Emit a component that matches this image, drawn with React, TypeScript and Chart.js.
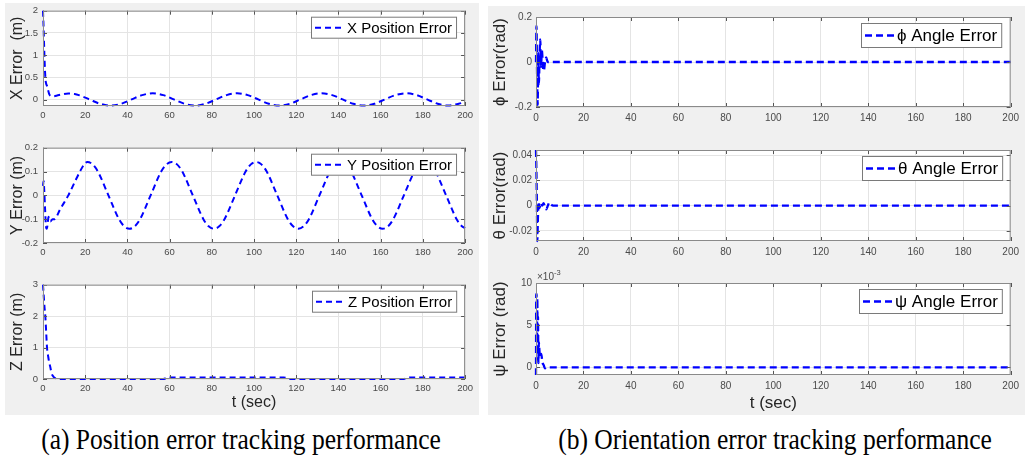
import React, { useEffect, useRef } from 'react';
import { Chart, registerables } from 'chart.js';

Chart.register(...registerables);

// ---------------- Data ----------------
const timeTicks = [0, 20, 40, 60, 80, 100, 120, 140, 160, 180, 200];

const xErrT = [0, 0.3, 0.6, 0.9, 1.2, 1.5, 2, 2.5, 3, 4, 5, 7, 9, 12, 15, 17, 22, 27, 32, 37, 42, 47, 52, 57, 62, 67, 72, 77, 82, 87, 92, 97, 102, 107, 112, 117, 122, 127, 132, 137, 142, 147, 152, 157, 162, 167, 172, 177, 182, 187, 192, 197, 200];
const xErrV = [2.0, 1.6, 1.1, 0.7, 0.45, 0.36, 0.3, 0.2, 0.12, 0.08, 0.08, 0.1, 0.12, 0.14, 0.13, 0.105, 0.008, -0.09, -0.13, -0.09, 0.008, 0.105, 0.145, 0.105, 0.008, -0.09, -0.13, -0.09, 0.008, 0.105, 0.145, 0.105, 0.008, -0.09, -0.13, -0.09, 0.008, 0.105, 0.145, 0.105, 0.008, -0.09, -0.13, -0.09, 0.008, 0.105, 0.145, 0.105, 0.008, -0.09, -0.13, -0.09, -0.05];
const xErrTicks = [0, 0.5, 1, 1.5, 2];

const yErrT = [0, 0.3, 0.6, 1.0, 1.4, 1.8, 2.2, 2.6, 3.0, 3.5, 4.5, 5.5, 8, 12, 15, 17.5, 19.5, 21,
  23.5, 26, 31, 36, 38.5, 41, 43.5, 46, 51, 56, 58.5, 61,
  63.5, 66, 71, 76, 78.5, 81, 83.5, 86, 91, 96, 98.5, 101,
  103.5, 106, 111, 116, 118.5, 121, 123.5, 126, 131, 136, 138.5, 141,
  143.5, 146, 151, 156, 158.5, 161, 163.5, 166, 171, 176, 178.5, 181,
  183.5, 186, 191, 196, 198.5, 200];
const yErrV = [0.04, 0.06, 0.02, -0.06, -0.13, -0.14, -0.12, -0.09, -0.1, -0.11, -0.1, -0.1, -0.06, 0.0, 0.055, 0.1, 0.13, 0.14,
  0.13, 0.1, 0, -0.1, -0.13, -0.14, -0.13, -0.1, 0, 0.1, 0.13, 0.14,
  0.13, 0.1, 0, -0.1, -0.13, -0.14, -0.13, -0.1, 0, 0.1, 0.13, 0.14,
  0.13, 0.1, 0, -0.1, -0.13, -0.14, -0.13, -0.1, 0, 0.1, 0.13, 0.14,
  0.13, 0.1, 0, -0.1, -0.13, -0.14, -0.13, -0.1, 0, 0.1, 0.13, 0.14,
  0.13, 0.1, 0, -0.1, -0.13, -0.138];
const yErrTicks = [-0.2, -0.1, 0, 0.1, 0.2];

const zErrT = [0, 0.3, 0.7, 1.1, 1.5, 1.9, 2.5, 3, 3.4, 4, 5, 6, 8, 57, 58.5, 60, 114, 115.5, 117, 171, 172.5, 174, 200];
const zErrV = [3, 2.7, 2.3, 2.0, 1.5, 1.0, 0.7, 0.5, 0.4, 0.2, 0.07, 0.02, 0, 0, 0.03, 0.05, 0.05, 0.03, 0, 0, 0.03, 0.05, 0.05];
const zErrTicks = [0, 1, 2, 3];

const phiT = [0, 0.2, 0.45, 0.7, 0.95, 1.2, 1.5, 1.8, 2.1, 2.5, 2.9, 3.3, 3.8, 4.3, 4.9, 5.5, 200];
const phiV = [0, 0.16, -0.05, -0.19, 0.04, -0.1, 0.03, 0.1, -0.02, 0.05, -0.02, -0.04, 0.0, 0.02, 0.0, 0.0, 0];
const phiTicks = [-0.2, 0, 0.2];

const thetaT = [0, 0.15, 0.35, 0.55, 0.8, 1.1, 1.5, 2.0, 2.6, 3.2, 3.8, 4.3, 5.0, 5.6, 6.3, 7.2, 8.5, 200];
const thetaV = [0.044, 0.03, 0.006, -0.028, -0.01, 0.003, -0.002, 0.002, 0.0, 0.002, -0.001, -0.003, 0.0, 0.0025, 0.001, 0.0, 0, 0];
const thetaTicks = [-0.02, 0, 0.02, 0.04];

const psiT = [0, 0.1, 0.25, 0.4, 0.55, 0.7, 0.85, 1.0, 1.2, 1.5, 1.8, 2.2, 2.7, 3.2, 3.8, 4.5, 200];
const psiV = [-0.0009, 0.0086, 0.0087, 0.003, 0.0082, 0.0015, 0.006, 0.0005, 0.003, 0.0018, 0.0012, 0.0016, 0.0006, 0.0003, -0.0001, 0, 0];
const psiTicks = [0, 0.005, 0.01];

const captionA = '(a) Position error tracking performance';
const captionB = '(b) Orientation error tracking performance';

// ---------------- Styles ----------------
const SANS = '"Liberation Sans", Arial, Helvetica, sans-serif';
const BLUE = '#0000ff';
const GRID = '#e4e4e4';
const FRAME = '#8a8a8a';
const TICKC = '#4a4a4a';
const TITLEC = '#262626';
const PANEL_BG = '#f0f0f0';

type Side = 'left' | 'right';
type Sub = {
  t: number[];
  v: number[];
  yMin: number;
  yMax: number;
  yTicks: number[];
  yTitle: string;
  legend: string;
  rect: [number, number, number, number];
  side: Side;
  bottom: boolean;
  scaleY?: number;
  exponent?: string;
};

const SIDE = {
  left: { panelLeft: 5, tick: 9.5, title: 16, legend: 15, legendH: 22, lw: 2, dash: [6, 4], yTitlePad: 5, xTickPad: 4, yTickPad: 5, xTitlePad: 4 },
  right: { panelLeft: 488, tick: 10, title: 17, legend: 17, legendH: 25, lw: 2.3, dash: [7, 4], yTitlePad: 3.5, xTickPad: 5, yTickPad: 4, xTitlePad: 3.5 },
};

const subs: Sub[] = [
  { t: xErrT, v: xErrV, yMin: -0.14, yMax: 2, yTicks: xErrTicks, yTitle: 'X Error  (m)', legend: 'X Position Error', rect: [43, 8, 469, 106], side: 'left', bottom: false },
  { t: yErrT, v: yErrV, yMin: -0.2, yMax: 0.2, yTicks: yErrTicks, yTitle: 'Y Error (m)', legend: 'Y Position Error', rect: [43, 145, 469, 243], side: 'left', bottom: false },
  { t: zErrT, v: zErrV, yMin: 0, yMax: 3, yTicks: zErrTicks, yTitle: 'Z Error (m)', legend: 'Z Position Error', rect: [43, 282, 469, 379], side: 'left', bottom: true },
  { t: phiT, v: phiV, yMin: -0.2, yMax: 0.2, yTicks: phiTicks, yTitle: 'ϕ Error(rad)', legend: 'ϕ Angle Error', rect: [536, 15, 1016, 107], side: 'right', bottom: false },
  { t: thetaT, v: thetaV, yMin: -0.028, yMax: 0.044, yTicks: thetaTicks, yTitle: 'θ Error(rad)', legend: 'θ Angle Error', rect: [536, 148, 1016, 241], side: 'right', bottom: false },
  { t: psiT, v: psiV, yMin: -0.0009, yMax: 0.01, yTicks: psiTicks, yTitle: 'ψ Error (rad)', legend: 'ψ Angle Error', rect: [536, 283, 1016, 375], side: 'right', bottom: true, scaleY: 1000, exponent: '-3' },
];

const PR = 8;

const framePlugin = {
  id: 'frame',
  beforeDraw(chart: any) {
    const { ctx, chartArea: a } = chart;
    ctx.save();
    ctx.fillStyle = '#ffffff';
    ctx.fillRect(a.left, a.top, a.right - a.left, a.bottom - a.top);
    ctx.restore();
  },
  afterDraw(chart: any, _args: any, opts: any) {
    const { ctx, chartArea: a } = chart;
    const xs = chart.scales.x;
    const ys = chart.scales.y;
    ctx.save();
    // inner tick marks
    ctx.strokeStyle = '#555555';
    ctx.lineWidth = 1;
    ctx.beginPath();
    xs.ticks.forEach((tk: any) => {
      const px = Math.round(xs.getPixelForValue(tk.value)) + 0.5;
      ctx.moveTo(px, a.bottom);
      ctx.lineTo(px, a.bottom - 4);
      ctx.moveTo(px, a.top);
      ctx.lineTo(px, a.top + 4);
    });
    ys.ticks.forEach((tk: any) => {
      const py = Math.round(ys.getPixelForValue(tk.value)) + 0.5;
      ctx.moveTo(a.left, py);
      ctx.lineTo(a.left + 4, py);
      ctx.moveTo(a.right, py);
      ctx.lineTo(a.right - 4, py);
    });
    ctx.stroke();
    // frame
    ctx.strokeStyle = FRAME;
    ctx.strokeRect(a.left + 0.5, a.top + 0.5, a.right - a.left - 1, a.bottom - a.top - 1);

    // legend
    const ds = chart.data.datasets[0];
    ctx.font = `${opts.legendSize}px ${SANS}`;
    const tw = ctx.measureText(ds.label).width;
    const bw = 36 + tw + 5;
    const bh = opts.legendH;
    const bx = Math.round(a.right - 8 - bw);
    const by = a.top + 6;
    ctx.fillStyle = '#ffffff';
    ctx.fillRect(bx, by, bw, bh);
    ctx.strokeStyle = '#7a7a7a';
    ctx.strokeRect(bx + 0.5, by + 0.5, bw - 1, bh - 1);
    ctx.strokeStyle = ds.borderColor;
    ctx.lineWidth = ds.borderWidth;
    ctx.setLineDash(ds.borderDash);
    ctx.beginPath();
    ctx.moveTo(bx + 4, by + bh / 2);
    ctx.lineTo(bx + 33, by + bh / 2);
    ctx.stroke();
    ctx.setLineDash([]);
    ctx.fillStyle = '#000000';
    ctx.textBaseline = 'middle';
    ctx.textAlign = 'left';
    ctx.fillText(ds.label, bx + 36, by + bh / 2 + 1);

    // exponent label
    if (opts.exponent) {
      ctx.fillStyle = TICKC;
      ctx.textBaseline = 'alphabetic';
      ctx.font = `10px ${SANS}`;
      const base = '×10';
      ctx.fillText(base, a.left + 1, a.top - 3);
      const w = ctx.measureText(base).width;
      ctx.font = `7.5px ${SANS}`;
      ctx.fillText(opts.exponent, a.left + 1 + w, a.top - 8);
    }
    ctx.restore();
  },
};

function SubPlot({ s }: { s: Sub }) {
  const ref = useRef<HTMLCanvasElement | null>(null);
  const st = SIDE[s.side];
  const [L, T, R, B] = s.rect;
  const pt = s.exponent ? 16 : 8;
  const yw = L - st.panelLeft;
  const xh = s.bottom ? (s.side === 'left' ? 36 : 40) : 22;
  const cw = R - L + yw + PR;
  const chh = B - T + pt + xh;

  useEffect(() => {
    if (!ref.current) return;
    const k = s.scaleY || 1;
    const chart = new Chart(ref.current, {
      type: 'line',
      data: {
        datasets: [
          {
            label: s.legend,
            data: s.t.map((t, i) => ({ x: t, y: s.v[i] })),
            borderColor: BLUE,
            borderWidth: st.lw,
            borderDash: st.dash,
            pointRadius: 0,
            fill: false,
            clip: 4,
            cubicInterpolationMode: 'monotone',
          } as any,
        ],
      },
      options: {
        responsive: false,
        animation: false,
        events: [],
        layout: { padding: { top: pt, right: PR, left: 0, bottom: 0 }, autoPadding: false } as any,
        plugins: {
          legend: { display: false },
          tooltip: { enabled: false },
          frame: { legendSize: st.legend, legendH: st.legendH, exponent: s.exponent },
        } as any,
        scales: {
          x: {
            type: 'linear',
            min: 0,
            max: 200,
            afterBuildTicks: (sc: any) => {
              sc.ticks = timeTicks.map((v) => ({ value: v }));
            },
            afterFit: (sc: any) => {
              sc.height = xh;
            },
            grid: { color: GRID, drawTicks: false, lineWidth: 1 },
            border: { display: false },
            ticks: {
              autoSkip: false,
              maxRotation: 0,
              padding: st.xTickPad,
              color: TICKC,
              font: { family: SANS, size: st.tick },
              callback: (v: any) => String(v),
            },
            title: {
              display: s.bottom,
              text: 't (sec)',
              color: TITLEC,
              font: { family: SANS, size: st.title, lineHeight: 1 },
              padding: { top: 0, bottom: st.xTitlePad },
            },
          },
          y: {
            type: 'linear',
            min: s.yMin,
            max: s.yMax,
            afterBuildTicks: (sc: any) => {
              sc.ticks = s.yTicks.map((v) => ({ value: v }));
            },
            afterFit: (sc: any) => {
              sc.width = yw;
            },
            grid: { color: GRID, drawTicks: false, lineWidth: 1 },
            border: { display: false },
            ticks: {
              autoSkip: false,
              padding: st.yTickPad,
              color: TICKC,
              font: { family: SANS, size: st.tick },
              callback: (v: any) => String(Math.round(Number(v) * k * 1000) / 1000),
            },
            title: {
              display: true,
              text: s.yTitle,
              color: TITLEC,
              font: { family: SANS, size: st.title, lineHeight: 1 },
              padding: { top: st.yTitlePad, bottom: 0 },
            },
          },
        },
      } as any,
      plugins: [framePlugin as any],
    });
    return () => chart.destroy();
  }, []);

  return (
    <canvas
      ref={ref}
      width={cw}
      height={chh}
      style={{ position: 'absolute', left: L - yw, top: T - pt, width: cw, height: chh }}
    />
  );
}

const captionStyle = (cx: number): React.CSSProperties => ({
  position: 'absolute',
  left: cx,
  top: 422,
  transform: 'translateX(-50%) scaleX(0.88)',
  transformOrigin: 'center',
  fontFamily: '"Liberation Serif", "Times New Roman", serif',
  fontSize: 29,
  lineHeight: '34px',
  color: '#000',
  whiteSpace: 'nowrap',
});

export default function App() {
  return (
    <div
      style={{
        position: 'fixed',
        left: 0,
        top: 0,
        width: 1028,
        height: 462,
        background: '#ffffff',
        overflow: 'hidden',
      }}
    >
      <div style={{ position: 'absolute', left: 5, top: 3, width: 474, height: 412, background: PANEL_BG }} />
      <div style={{ position: 'absolute', left: 488, top: 6, width: 537, height: 409, background: PANEL_BG }} />
      {subs.map((s, i) => (
        <SubPlot key={i} s={s} />
      ))}
      <div style={captionStyle(241)}>{captionA}</div>
      <div style={captionStyle(775)}>{captionB}</div>
    </div>
  );
}
